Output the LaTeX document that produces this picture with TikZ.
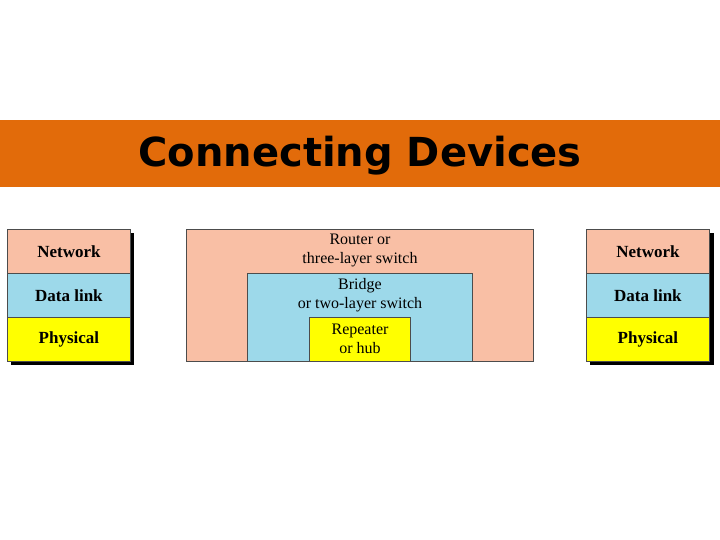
\documentclass[tikz,border=0pt]{standalone}
\usepackage{fontspec}
\setmainfont{Liberation Serif}
\newfontfamily\titlefont{DejaVu Sans}
\definecolor{salm}{HTML}{F9BFA5}
\definecolor{sky}{HTML}{9DD9EA}
\definecolor{yel}{HTML}{FFFF00}
\definecolor{bar}{HTML}{E26B0A}
\begin{document}
\begin{tikzpicture}[x=1pt,y=-1pt,
  layer/.style={draw=black!70,line width=0.8pt,font=\bfseries\fontsize{17}{19}\selectfont},
  dev/.style={draw=black!70,line width=0.8pt},
  lbl/.style={font=\fontsize{16}{19}\selectfont,align=center,inner sep=0pt}]
\useasboundingbox (0,0) rectangle (720,540);
\fill[bar] (0,120) rectangle (720,187);
\node[font=\titlefont\bfseries\fontsize{40}{44}\selectfont,text=black] (title) at (360,156) {Connecting Devices};
% left stack
\fill[black] (11,233) rectangle (134,365);
\fill[black] (590,233) rectangle (714,365);
\foreach \x/\n in {7/L,586/R}{
  \node[layer,fill=salm,minimum width=123pt,minimum height=44pt,anchor=north west] (\n net) at (\x,229) {Network};
  \node[layer,fill=sky,minimum width=123pt,minimum height=44pt,anchor=north west] (\n dl) at (\x,273) {Data link};
  \node[layer,fill=yel,minimum width=123pt,minimum height=44pt,anchor=north west] (\n ph) at (\x,317) {Physical};
}
% middle
\draw[dev,fill=salm] (186,229) rectangle (533,361);
\draw[dev,fill=sky] (247,273) rectangle (472,361);
\draw[dev,fill=yel] (309,317) rectangle (410,361);
\node[lbl] (router) at (360,250) {Router or\\three-layer switch};
\node[lbl] (bridge) at (360,295) {Bridge\\or two-layer switch};
\node[lbl] (rep) at (360,339) {Repeater\\or hub};
\end{tikzpicture}
\end{document}
